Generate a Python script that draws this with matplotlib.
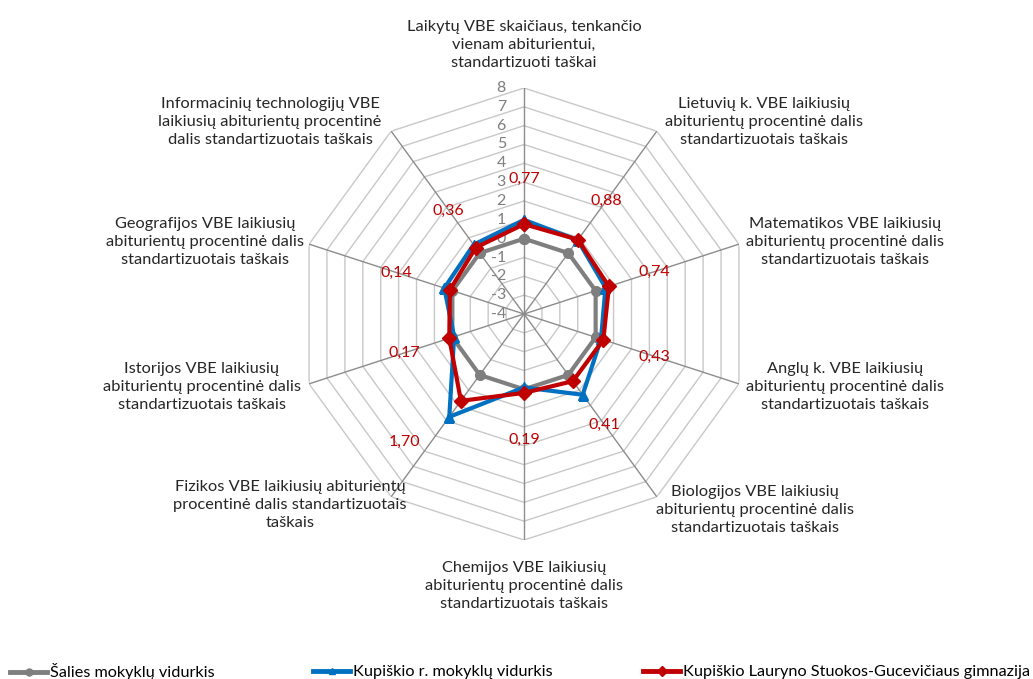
import numpy as np
import matplotlib
matplotlib.use("Agg")
import matplotlib.pyplot as plt
from matplotlib.lines import Line2D

plt.rcParams["font.family"] = ["Lato", "DejaVu Sans"]

categories = [
    "Laikytų VBE skaičiaus, tenkančio\nvienam abiturientui,\nstandartizuoti taškai",
    "Lietuvių k. VBE laikiusių\nabiturientų procentinė dalis\nstandartizuotais taškais",
    "Matematikos VBE laikiusių\nabiturientų procentinė dalis\nstandartizuotais taškais",
    "Anglų k. VBE laikiusių\nabiturientų procentinė dalis\nstandartizuotais taškais",
    "Biologijos VBE laikiusių\nabiturientų procentinė dalis\nstandartizuotais taškais",
    "Chemijos VBE laikiusių\nabiturientų procentinė dalis\nstandartizuotais taškais",
    "Fizikos VBE laikiusių abiturientų\nprocentinė dalis standartizuotais\ntaškais",
    "Istorijos VBE laikiusių\nabiturientų procentinė dalis\nstandartizuotais taškais",
    "Geografijos VBE laikiusių\nabiturientų procentinė dalis\nstandartizuotais taškais",
    "Informacinių technologijų VBE\nlaikiusių abiturientų procentinė\ndalis standartizuotais taškais",
]
series_names = [
    "Šalies mokyklų vidurkis",
    "Kupiškio r. mokyklų vidurkis",
    "Kupiškio Lauryno Stuokos-Gucevičiaus gimnazija",
]
salies = [0, 0, 0, 0, 0, 0, 0, 0, 0, 0]
rajonas = [1.0, 0.85, 0.55, 0.3, 1.3, -0.1, 2.75, -0.1, 0.45, 0.55]
gimnazija = [0.77, 0.88, 0.74, 0.43, 0.41, 0.19, 1.70, 0.17, 0.14, 0.36]
r_ticks = list(range(-4, 9))

colors = ["#7f7f7f", "#0070c0", "#c00000"]
markers = ["o", "^", "D"]

W, H = 1033, 679
fig = plt.figure(figsize=(W / 100, H / 100), dpi=100)
cx, cy, rad = 524, 314, 226
ax = fig.add_axes([(cx - rad) / W, 1 - (cy + rad) / H, 2 * rad / W, 2 * rad / H],
                  projection="polar")
ax.set_theta_zero_location("N")
ax.set_theta_direction(-1)
ax.set_ylim(-4, 8)
ax.grid(False)
ax.spines["polar"].set_visible(False)
ax.set_xticks([])
ax.set_yticks([])

n = len(categories)
ang = np.deg2rad(np.arange(n) * 360 / n)
ang_c = np.append(ang, ang[0])

# polygon rings
for r in r_ticks[1:]:
    ax.plot(ang_c, [r] * (n + 1), color="#c8c8c8", lw=1.0, zorder=1)
# spokes
for a in ang:
    ax.plot([a, a], [-4, 8], color="#8c8c8c", lw=1.0, zorder=2)

# radial tick labels
for r in r_ticks:
    ax.annotate(str(r), xy=(0, r), xytext=(-13, 0), textcoords="offset points",
                ha="right", va="center", fontsize=11.5, color="#7f7f7f")

for vals, c, m in zip([salies, rajonas, gimnazija], colors, markers):
    v = np.append(vals, vals[0])
    ax.plot(ang_c, v, color=c, lw=3, marker=m, markersize=7, zorder=3)

# data labels for gimnazija
lab_r = [3.2, 3.45, 3.3, 3.3, 3.25, 2.7, 5.3, 2.7, 3.1, 2.8]
lab_a = [0, 36, 72, 108, 144, 180, 223, 252, 288, 324]
for v, rr, aa in zip(gimnazija, lab_r, lab_a):
    ax.text(np.deg2rad(aa), rr, f"{v:.2f}".replace(".", ","), ha="center",
            va="center", fontsize=11.5, color="#c00000")

# category labels
cat_pos = [(524, 45), (764, 122), (845, 242), (845, 387), (755, 510),
           (524, 586), (290, 505), (202, 387), (205, 242), (270, 122)]
for txt, (px, py) in zip(categories, cat_pos):
    fig.text(px / W, 1 - py / H, txt, ha="center", va="center", fontsize=11.8,
             color="#262626", linespacing=1.4)

# legend
leg_x = [10, 313, 643]
for name, c, m, lx in zip(series_names, colors, markers, leg_x):
    h = Line2D([], [], color=c, lw=3.5, marker=m, markersize=5)
    fig.legend([h], [name], loc="center left", bbox_to_anchor=(lx / W, 1 - 672 / H),
               frameon=False, fontsize=11.7, handlelength=2.3, handletextpad=0.15,
               borderpad=0, borderaxespad=0)

fig.savefig("out.png", dpi=100)
